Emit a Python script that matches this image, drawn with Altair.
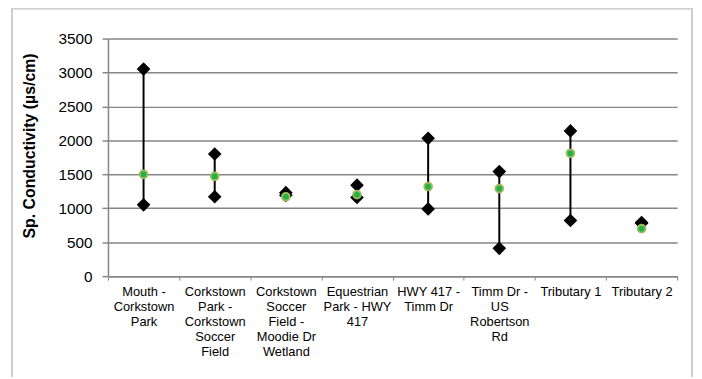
import altair as alt
import pandas as pd

sites = [
    "Mouth -|Corkstown|Park",
    "Corkstown|Park -|Corkstown|Soccer|Field",
    "Corkstown|Soccer|Field -|Moodie Dr|Wetland",
    "Equestrian|Park - HWY|417",
    "HWY 417 -|Timm Dr",
    "Timm Dr -|US|Robertson|Rd",
    "Tributary 1",
    "Tributary 2",
]
max_vals = [3050, 1800, 1230, 1340, 2030, 1540, 2140, 790]
min_vals = [1050, 1170, 1190, 1160, 990, 410, 820, 780]
mean_vals = [1500, 1470, 1170, 1200, 1320, 1290, 1810, 700]

df = pd.DataFrame({"site": sites, "max": max_vals, "min": min_vals, "mean": mean_vals})

FONT = "Liberation Sans"

x_enc = alt.X(
    "site:N",
    sort=sites,
    title=None,
    scale=alt.Scale(type="band", paddingInner=0, paddingOuter=0),
    axis=alt.Axis(
        labelExpr="split(datum.label, '|')",
        labelAngle=0,
        labelFontSize=13,
        labelFont=FONT,
        labelColor="#000000",
        labelPadding=6,
        labelLineHeight=15,
        labelBaseline="top",
        tickBand="extent",
        tickColor="#868686",
        tickSize=4,
        domainColor="#868686",
        domainWidth=1.5,
        grid=False,
    ),
)

y_scale = alt.Scale(domain=[0, 3500], nice=False, zero=True)
y_axis = alt.Axis(
    values=[0, 500, 1000, 1500, 2000, 2500, 3000, 3500],
    format="d",
    title="Sp. Conductivity (µs/cm)",
    titleFont=FONT,
    titleFontSize=16,
    titleFontWeight="bold",
    titleColor="#000000",
    titleX=-71,
    titleY=108,
    labelFont=FONT,
    labelFontSize=15.5,
    labelColor="#000000",
    labelPadding=10,
    tickColor="#868686",
    tickSize=6,
    tickWidth=1.5,
    domainColor="#868686",
    domainWidth=1.5,
    grid=True,
    gridColor="#868686",
    gridWidth=1.5,
)

base = alt.Chart(df)

frame = alt.Chart(pd.DataFrame({"a": [0]})).mark_rect(
    fill="white", fillOpacity=0, stroke="#bfbfbf", strokeWidth=1.5
).encode(
    x=alt.value(-97), x2=alt.value(590), y=alt.value(-30), y2=alt.value(380)
)

rules = base.mark_rule(color="black", strokeWidth=2).encode(
    x=x_enc,
    y=alt.Y("max:Q", scale=y_scale, axis=y_axis),
    y2="min:Q",
)

diamonds = base.transform_fold(["max", "min"], as_=["stat", "val"]).mark_point(
    shape="diamond", filled=True, color="black", size=190, opacity=1
).encode(x=x_enc, y=alt.Y("val:Q", scale=y_scale, axis=y_axis))

means = base.mark_point(
    shape="circle", filled=True, fill="#1fb24a", stroke="#9bbb59", strokeWidth=2, size=60, opacity=1
).encode(x=x_enc, y=alt.Y("mean:Q", scale=y_scale, axis=y_axis))

chart = alt.layer(frame, rules, diamonds, means).properties(
    width=575,
    height=240,
    autosize=alt.AutoSizeParams(type="none"),
    padding={"left": 101, "top": 29, "right": 17, "bottom": 100},
).configure_view(stroke=None)

chart.save("out.html", embed_options={"renderer": "svg", "actions": False})
